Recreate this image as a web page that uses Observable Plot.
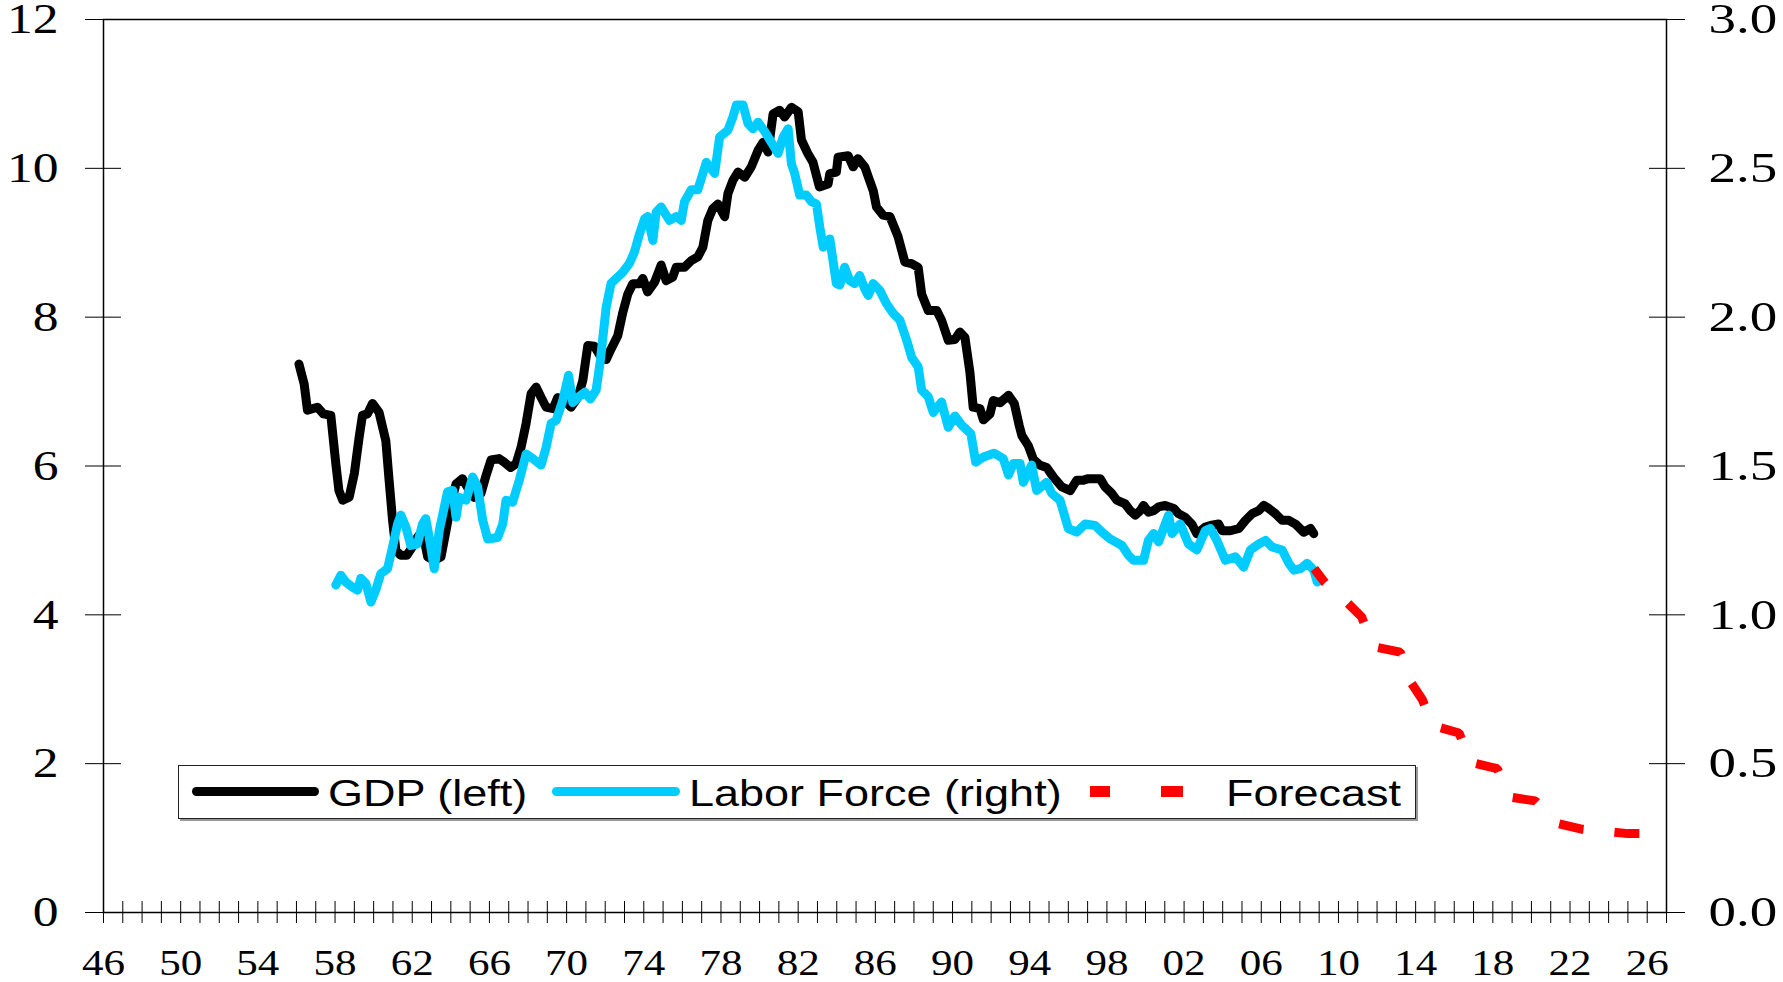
<!DOCTYPE html>
<html><head><meta charset="utf-8">
<script src="https://cdn.jsdelivr.net/npm/d3@7"></script>
<script src="https://cdn.jsdelivr.net/npm/@observablehq/plot@0.6"></script>
<style>
html,body{margin:0;padding:0;background:#fff;}
#wrap{position:relative;width:1783px;height:982px;overflow:hidden;}
#legend{position:absolute;left:178px;top:765px;width:1238px;height:54px;box-sizing:border-box;border:1.5px solid #222;box-shadow:2px 2px 0 #999;background:#fff;font-family:"Liberation Sans",Arial,sans-serif;font-size:36px;color:#000;}
#legend .sw{position:absolute;top:21px;height:9px;border-radius:4.5px;}
#legend .sq{position:absolute;top:20px;height:11px;background:#ff0000;}
#legend .lb{position:absolute;top:2px;line-height:52px;white-space:nowrap;display:inline-block;transform:scaleX(1.25);transform-origin:left center;}
</style></head>
<body><div id="wrap"></div>
<script>
// GDP (left axis)
const gdpYears = [1956.13,1956.40,1956.57,1957.09,1957.40,1957.78,1958.04,1958.20,1958.40,1958.73,1959.00,1959.25,1959.42,1959.68,1959.94,1960.28,1960.63,1960.80,1960.98,1961.15,1961.40,1961.72,1962.00,1962.27,1962.53,1962.80,1963.14,1963.49,1963.75,1964.00,1964.27,1964.60,1964.96,1965.20,1965.56,1965.80,1966.08,1966.50,1966.77,1967.10,1967.38,1967.64,1967.90,1968.16,1968.42,1968.68,1968.94,1969.30,1969.54,1969.90,1970.23,1970.58,1970.84,1971.10,1971.44,1971.79,1972.05,1972.30,1972.65,1972.90,1973.17,1973.43,1973.78,1973.95,1974.20,1974.56,1974.90,1975.16,1975.50,1975.68,1976.11,1976.46,1976.80,1977.06,1977.32,1977.58,1977.84,1978.19,1978.36,1978.62,1978.88,1979.23,1979.57,1979.92,1980.18,1980.44,1980.70,1981.04,1981.30,1981.65,1982.00,1982.17,1982.50,1982.77,1983.10,1983.55,1983.64,1983.98,1984.07,1984.59,1984.85,1985.10,1985.45,1985.89,1986.06,1986.40,1986.76,1987.18,1987.53,1987.88,1988.22,1988.40,1988.74,1989.18,1989.43,1989.78,1990.12,1990.38,1990.64,1990.90,1991.07,1991.42,1991.60,1991.94,1992.11,1992.46,1992.90,1993.20,1993.45,1993.59,1993.93,1994.19,1994.54,1994.88,1995.23,1995.66,1996.10,1996.44,1996.79,1997.04,1997.65,1997.90,1998.26,1998.51,1998.95,1999.21,1999.47,1999.73,1999.90,2000.15,2000.42,2000.68,2001.02,2001.46,2001.71,2002.06,2002.40,2002.66,2003.10,2003.36,2003.79,2003.97,2004.40,2004.84,2005.18,2005.53,2005.87,2006.13,2006.39,2006.73,2007.08,2007.43,2007.77,2008.20,2008.55,2008.72];
const gdpValues = [7.37,7.10,6.75,6.79,6.70,6.68,6.03,5.67,5.54,5.58,5.90,6.39,6.68,6.70,6.84,6.72,6.34,5.81,5.27,4.87,4.80,4.80,4.91,5.04,5.13,4.78,4.73,4.78,5.13,5.49,5.76,5.83,5.67,5.58,5.63,5.85,6.08,6.10,6.05,5.98,6.03,6.25,6.57,6.97,7.06,6.92,6.79,6.77,6.92,6.88,6.79,6.92,7.15,7.62,7.61,7.46,7.43,7.57,7.75,8.05,8.31,8.45,8.45,8.52,8.34,8.47,8.70,8.49,8.54,8.67,8.67,8.76,8.81,8.94,9.30,9.46,9.52,9.35,9.66,9.84,9.95,9.88,10.02,10.24,10.35,10.22,10.73,10.78,10.69,10.82,10.76,10.38,10.20,10.08,9.75,9.79,9.93,9.95,10.15,10.17,10.02,10.13,10.02,9.70,9.48,9.37,9.35,9.08,8.74,8.72,8.67,8.31,8.09,8.09,7.96,7.69,7.70,7.80,7.73,7.26,6.79,6.77,6.62,6.70,6.88,6.85,6.95,6.84,6.55,6.41,6.27,6.09,6.01,5.98,5.85,5.72,5.67,5.81,5.81,5.83,5.83,5.72,5.63,5.54,5.49,5.40,5.34,5.40,5.47,5.38,5.40,5.45,5.47,5.43,5.36,5.31,5.22,5.09,5.18,5.20,5.22,5.13,5.13,5.16,5.27,5.36,5.40,5.47,5.43,5.36,5.27,5.27,5.22,5.11,5.16,5.09];

// Labor force (right axis)
const lfYears = [1958.04,1958.30,1958.56,1958.90,1959.16,1959.34,1959.60,1959.86,1960.11,1960.37,1960.72,1960.98,1961.24,1961.41,1961.67,1961.93,1962.27,1962.53,1962.70,1962.88,1963.14,1963.40,1963.83,1964.10,1964.27,1964.44,1964.79,1965.13,1965.39,1965.65,1965.91,1966.43,1966.69,1966.86,1967.20,1967.55,1967.90,1968.24,1968.68,1968.94,1969.20,1969.46,1969.80,1970.10,1970.32,1970.67,1970.95,1971.23,1971.53,1971.75,1972.05,1972.30,1972.65,1972.90,1973.25,1973.51,1973.78,1974.04,1974.20,1974.47,1974.64,1974.90,1975.33,1975.68,1975.94,1976.11,1976.46,1976.80,1977.24,1977.67,1977.93,1978.36,1978.62,1978.80,1979.14,1979.40,1979.66,1979.92,1980.27,1980.70,1980.96,1981.22,1981.48,1981.65,1981.82,1982.08,1982.43,1982.69,1982.95,1983.12,1983.30,1983.64,1983.98,1984.16,1984.41,1984.67,1984.93,1985.19,1985.45,1985.63,1985.89,1986.23,1986.58,1986.93,1987.27,1987.62,1987.88,1988.22,1988.40,1988.74,1989.00,1989.43,1989.78,1990.12,1990.47,1990.95,1991.20,1991.60,1992.15,1992.63,1992.90,1993.15,1993.50,1993.67,1994.10,1994.36,1994.88,1995.14,1995.57,1996.00,1996.44,1996.87,1997.39,1997.74,1998.17,1998.78,1999.12,1999.38,1999.90,2000.15,2000.42,2000.68,2001.02,2001.20,2001.37,2001.80,2002.23,2002.66,2003.10,2003.36,2003.70,2004.14,2004.66,2005.09,2005.44,2005.87,2006.22,2006.56,2007.08,2007.43,2007.69,2008.03,2008.38,2008.72,2008.90];
const lfValues = [1.100,1.133,1.110,1.093,1.083,1.123,1.105,1.043,1.083,1.138,1.155,1.228,1.305,1.335,1.295,1.233,1.238,1.305,1.323,1.260,1.155,1.283,1.413,1.418,1.328,1.395,1.385,1.463,1.430,1.318,1.255,1.260,1.305,1.385,1.378,1.453,1.540,1.525,1.503,1.563,1.643,1.653,1.720,1.805,1.713,1.735,1.748,1.725,1.755,1.855,2.033,2.113,2.135,2.150,2.180,2.218,2.280,2.330,2.338,2.258,2.353,2.370,2.325,2.338,2.325,2.388,2.428,2.428,2.520,2.483,2.605,2.628,2.673,2.713,2.713,2.650,2.633,2.655,2.623,2.578,2.550,2.605,2.633,2.515,2.483,2.410,2.410,2.388,2.380,2.303,2.235,2.263,2.113,2.108,2.168,2.123,2.113,2.140,2.095,2.073,2.113,2.090,2.045,2.013,1.990,1.923,1.865,1.833,1.755,1.733,1.680,1.715,1.630,1.668,1.638,1.608,1.513,1.530,1.543,1.525,1.470,1.508,1.508,1.445,1.503,1.418,1.445,1.408,1.385,1.290,1.278,1.305,1.300,1.278,1.255,1.233,1.200,1.183,1.183,1.250,1.273,1.245,1.305,1.335,1.273,1.305,1.238,1.218,1.283,1.290,1.250,1.183,1.195,1.160,1.218,1.238,1.250,1.228,1.218,1.173,1.150,1.155,1.173,1.150,1.110];

// Forecast of labor force (right axis)
const fcYears = [2008.75,2009.30,2010.50,2011.20,2011.80,2013.20,2013.74,2014.35,2014.87,2016.25,2016.85,2018.23,2018.84,2020.20,2021.43,2022.60,2025.00,2026.30];
const fcValues = [1.155,1.108,1.038,0.993,0.893,0.875,0.775,0.715,0.628,0.603,0.505,0.483,0.388,0.375,0.298,0.280,0.265,0.265];

const leftTicks = [0,2,4,6,8,10,12];
const rightTickLabels = ["0.0","0.5","1.0","1.5","2.0","2.5","3.0"];
const minorYears = d3.range(1946, 2028);
const labelYears = d3.range(1946, 2027, 4);

const K = 4; // right-axis units -> left-axis units
const gdp = gdpYears.map((x, i) => ({x, v: gdpValues[i]}));
const lf = lfYears.map((x, i) => ({x, v: lfValues[i] * K}));
const fc = fcYears.map((x, i) => ({x, v: fcValues[i] * K}));

const serif = '"Liberation Serif","Times New Roman",serif';
const plot = Plot.plot({
  width: 1783, height: 982,
  marginLeft: 103, marginRight: 117, marginTop: 19, marginBottom: 70,
  style: {fontFamily: serif, fontSize: "40px", color: "#000", background: "#fff", overflow: "visible"},
  x: {domain: [1946, 2027], label: null},
  y: {domain: [0, 12], label: null},
  marks: [
    Plot.frame({stroke: "#000", strokeWidth: 1.5}),
    Plot.axisY({anchor: "left", ticks: leftTicks, tickSize: 36, dx: 18, fill: "none", label: null}),
    Plot.axisY({anchor: "left", ticks: leftTicks, tickSize: 0, tickPadding: 45, fontSize: 43, tickFormat: d => String(d), label: null}),
    Plot.axisY({anchor: "right", ticks: leftTicks, tickSize: 36, dx: -18, fill: "none", label: null}),
    Plot.axisY({anchor: "right", ticks: leftTicks, tickSize: 0, tickPadding: 42, fontSize: 43, tickFormat: d => rightTickLabels[leftTicks.indexOf(d)], label: null}),
    Plot.axisX({ticks: minorYears, tickSize: 22, dy: -11, fill: "none", label: null}),
    Plot.axisX({ticks: labelYears, tickSize: 0, tickPadding: 38, fontSize: 35, tickFormat: d => String(d).slice(2), label: null}),
    Plot.line(gdp, {x: "x", y: "v", stroke: "#000", strokeWidth: 9, strokeLinejoin: "round", strokeLinecap: "round"}),
    Plot.line(lf, {x: "x", y: "v", stroke: "#00ccff", strokeWidth: 9, strokeLinejoin: "round", strokeLinecap: "round"}),
    Plot.line(fc, {x: "x", y: "v", stroke: "#ff0000", strokeWidth: 9, strokeDasharray: "25,31", strokeDashoffset: 7.3, strokeLinecap: "butt", strokeLinejoin: "miter"})
  ]
});

function stretch(sel, s) {
  sel.each(function() {
    const t = this.getAttribute("transform") || "";
    const x = +(this.getAttribute("x") || 0);
    this.setAttribute("transform", `${t} translate(${x},0) scale(${s},1) translate(${-x},0)`);
  });
}
const svg = d3.select(plot);
const yLabelGroups = svg.selectAll('g[aria-label="y-axis tick label"]').nodes();
yLabelGroups.forEach(g => {
  const anchor = g.getAttribute("text-anchor");
  stretch(d3.select(g).selectAll("text"), anchor === "start" ? 1.28 : 1.2);
});
stretch(svg.selectAll('g[aria-label="x-axis tick label"] text'), 1.23);

const wrap = document.getElementById("wrap");
wrap.appendChild(plot);

const legend = document.createElement("div");
legend.id = "legend";
legend.innerHTML = `
  <div class="sw" style="left:13px;width:127px;background:#000"></div>
  <span class="lb" style="left:149px">GDP (left)</span>
  <div class="sw" style="left:373px;width:128px;background:#00ccff"></div>
  <span class="lb" style="left:510px">Labor Force (right)</span>
  <div class="sq" style="left:911px;width:20px"></div>
  <div class="sq" style="left:982px;width:22px"></div>
  <span class="lb" style="left:1047px">Forecast</span>`;
wrap.appendChild(legend);
</script>
</body></html>
